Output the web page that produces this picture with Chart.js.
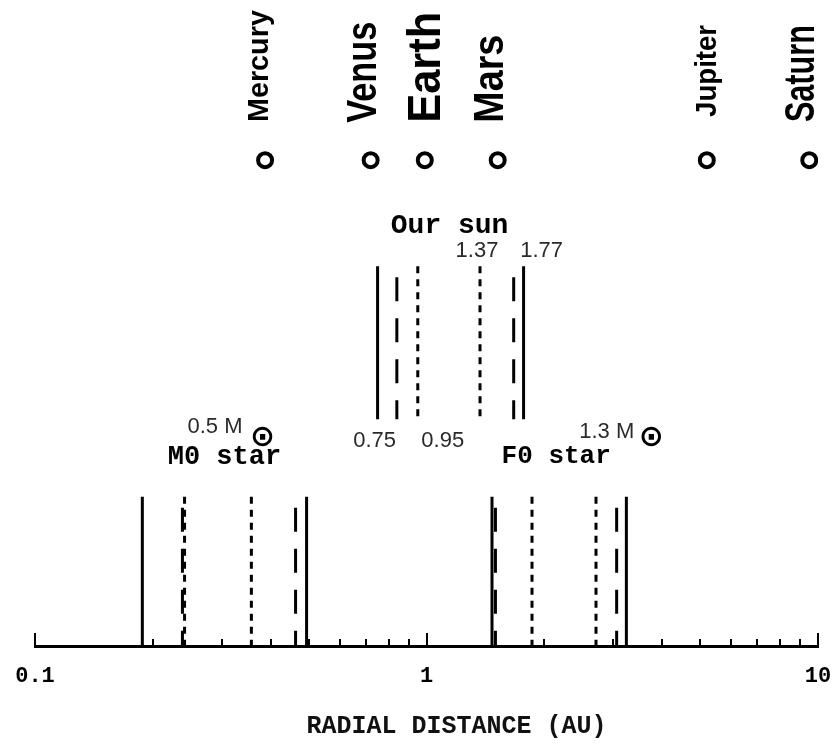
<!DOCTYPE html>
<html><head><meta charset="utf-8">
<script src="https://cdn.jsdelivr.net/npm/chart.js@4.4.1/dist/chart.umd.min.js"></script>
<style>html,body{margin:0;padding:0;background:#fff}#wrap{width:835px;height:750px;position:relative}</style>
</head><body><div id="wrap"><canvas id="c" width="835" height="750"></canvas></div>
<script>
// ---------- DATA ----------
const planetNames = ['Mercury', 'Venus', 'Earth', 'Mars', 'Jupiter', 'Saturn'];
const planetDistances = [0.387, 0.72, 0.99, 1.52, 5.2, 9.5];   // AU
const starNames = ['Our sun', 'M0 star', 'F0 star'];
const starMasses = ['', '0.5', '1.3'];                         // solar masses
const sunBounds = [0.75, 0.84, 0.95, 1.37, 1.67, 1.77];        // AU
const m0Bounds  = [0.188, 0.238, 0.241, 0.357, 0.463, 0.494];  // AU
const f0Bounds  = [1.47, 1.50, 1.86, 2.71, 3.06, 3.24];        // AU
const sunInnerLabels = ['0.75', '0.95'];
const sunOuterLabels = ['1.37', '1.77'];
const axisTickLabels = ['0.1', '1', '10'];
const axisTitle = 'RADIAL DISTANCE (AU)';

// ---------- STYLE / LAYOUT ----------
const zoneKinds = ['solid', 'dash', 'dot', 'dot', 'dash', 'solid'];
const DASH = { solid: [], dash: [24, 17], dot: [7, 6] };
const DASH_OFF = { solid: 0, dash: 30, dot: 0 };
const ROWS = { starBottom: 0, starTop: 23.1, sunBottom: 35.1, sunTop: 58.8, planets: 75.2 };
const planetLabelStyle = [
  { size: 29, len: 112, dx: 2.5, bottom: 81.1 },
  { size: 42, len: 101, dx: 5,   bottom: 81.0 },
  { size: 47, len: 111, dx: 15,  bottom: 81.0 },
  { size: 42, len: 88,  dx: 5,   bottom: 81.0 },
  { size: 29, len: 92,  dx: 9.5, bottom: 81.9 },
  { size: 42, len: 97,  dx: 4.5, bottom: 81.1 }
];

function bandDatasets(bounds, y0, y1) {
  return bounds.map((v, i) => ({
    type: 'line',
    data: [{ x: v, y: y1 }, { x: v, y: y0 }],
    borderColor: '#000',
    borderWidth: 3,
    borderDash: DASH[zoneKinds[i]],
    borderDashOffset: DASH_OFF[zoneKinds[i]],
    pointRadius: 0,
    fill: false,
    tension: 0
  }));
}

const datasets = [
  ...bandDatasets(sunBounds, ROWS.sunBottom, ROWS.sunTop),
  ...bandDatasets(m0Bounds, ROWS.starBottom, ROWS.starTop),
  ...bandDatasets(f0Bounds, ROWS.starBottom, ROWS.starTop),
  {
    type: 'line',
    data: planetDistances.map(d => ({ x: d, y: ROWS.planets })),
    showLine: false,
    pointRadius: 7,
    pointBorderWidth: 4,
    pointBackgroundColor: '#fff',
    pointBorderColor: '#000'
  }
];

const annot = {
  id: 'annot',
  afterDraw(chart) {
    const ctx = chart.ctx;
    const xs = chart.scales.x, ys = chart.scales.y;
    const X = v => xs.getPixelForValue(v);
    const Y = u => ys.getPixelForValue(u);
    const axisY = chart.chartArea.bottom;
    ctx.save();
    // tick marks pointing up
    ctx.strokeStyle = '#000';
    ctx.lineWidth = 2;
    xs.ticks.forEach(t => {
      const l = Math.log10(t.value);
      const major = Math.abs(l - Math.round(l)) < 1e-6;
      const px = Math.round(X(t.value));
      ctx.beginPath();
      ctx.moveTo(px, axisY);
      ctx.lineTo(px, axisY - (major ? 13 : 7));
      ctx.stroke();
    });
    // axis title
    ctx.fillStyle = '#111';
    ctx.textAlign = 'center';
    ctx.textBaseline = 'middle';
    ctx.font = 'bold 25px "Liberation Mono", "Courier New", monospace';
    ctx.fillText(axisTitle, (xs.left + xs.right) / 2 + 30, axisY + 81);
    // planet labels
    ctx.fillStyle = '#000';
    planetNames.forEach((n, i) => {
      const s = planetLabelStyle[i];
      ctx.save();
      ctx.font = 'bold ' + s.size + 'px "Liberation Sans", Arial, sans-serif';
      const w = ctx.measureText(n).width;
      ctx.translate(X(planetDistances[i]) + s.dx, Y(s.bottom));
      ctx.rotate(-Math.PI / 2);
      ctx.scale(s.len / w, 1);
      ctx.textAlign = 'left';
      ctx.textBaseline = 'alphabetic';
      ctx.fillText(n, 0, 0);
      ctx.restore();
    });
    // star names
    ctx.textAlign = 'center';
    ctx.textBaseline = 'middle';
    const groups = [sunBounds, m0Bounds, f0Bounds];
    const nameRow = [65.0, 29.3, 29.3];
    const nameSize = [28, 27, 26];
    const nameDx = [-1, 0, -3];
    starNames.forEach((n, i) => {
      const b = groups[i];
      const cx = (X(b[0]) + X(b[b.length - 1])) / 2 + nameDx[i];
      ctx.font = 'bold ' + nameSize[i] + 'px "Liberation Mono", "Courier New", monospace';
      ctx.fillText(n, cx, Y(nameRow[i]));
    });
    // numeric labels for our sun
    ctx.fillStyle = '#2a2a2a';
    ctx.font = '22px "Liberation Sans", Arial, sans-serif';
    ctx.fillText(sunInnerLabels[0], X(sunBounds[0]) - 3, Y(31.7));
    ctx.fillText(sunInnerLabels[1], X(sunBounds[2]) + 25, Y(31.7));
    ctx.fillText(sunOuterLabels[0], X(sunBounds[3]) - 3, Y(61.1));
    ctx.fillText(sunOuterLabels[1], X(sunBounds[5]) + 18, Y(61.1));
    // mass labels  (text "x.x M" followed by a subscript sun symbol)
    const massRow = [0, 33.9, 33.2];
    const symDrop = [0, 11, 7];
    const massStart = [0, -37, 20];
    const symGap = [0, 20, 17];
    [1, 2].forEach(i => {
      const b = groups[i];
      const cx = (X(b[0]) + X(b[b.length - 1])) / 2 + massStart[i];
      const txt = starMasses[i] + ' M';
      const yy = Y(massRow[i]);
      ctx.textAlign = 'left';
      ctx.fillStyle = '#2a2a2a';
      ctx.font = '22px "Liberation Sans", Arial, sans-serif';
      const w = ctx.measureText(txt).width;
      ctx.fillText(txt, cx, yy);
      ctx.fillStyle = '#000';
      ctx.textAlign = 'center';
      ctx.font = 'bold 30px "DejaVu Sans", sans-serif';
      ctx.fillText('\u2299', cx + w + symGap[i], yy + symDrop[i]);
    });
    ctx.restore();
  }
};

new Chart(document.getElementById('c'), {
  type: 'line',
  data: { datasets },
  options: {
    responsive: false,
    animation: false,
    devicePixelRatio: 1,
    layout: { autoPadding: false, padding: { left: 35, right: 17, top: 0, bottom: 0 } },
    plugins: { legend: { display: false }, tooltip: { enabled: false } },
    scales: {
      x: {
        type: 'logarithmic',
        min: 0.1, max: 10,
        position: 'bottom',
        afterFit(s) { s.height = 104; s.paddingLeft = 0; s.paddingRight = 0; },
        grid: { display: false, drawTicks: false },
        border: { display: true, color: '#000', width: 3 },
        ticks: {
          autoSkip: false, maxRotation: 0, padding: 17,
          color: '#000',
          font: { family: '"Liberation Mono", "Courier New", monospace', size: 22, weight: 'bold' },
          callback(v) {
            const l = Math.log10(v);
            return Math.abs(l - Math.round(l)) < 1e-6 ? axisTickLabels[Math.round(l) + 1] : '';
          }
        },
        title: { display: false }
      },
      y: { type: 'linear', min: 0, max: 100, display: false }
    }
  },
  plugins: [annot]
});
</script></body></html>
